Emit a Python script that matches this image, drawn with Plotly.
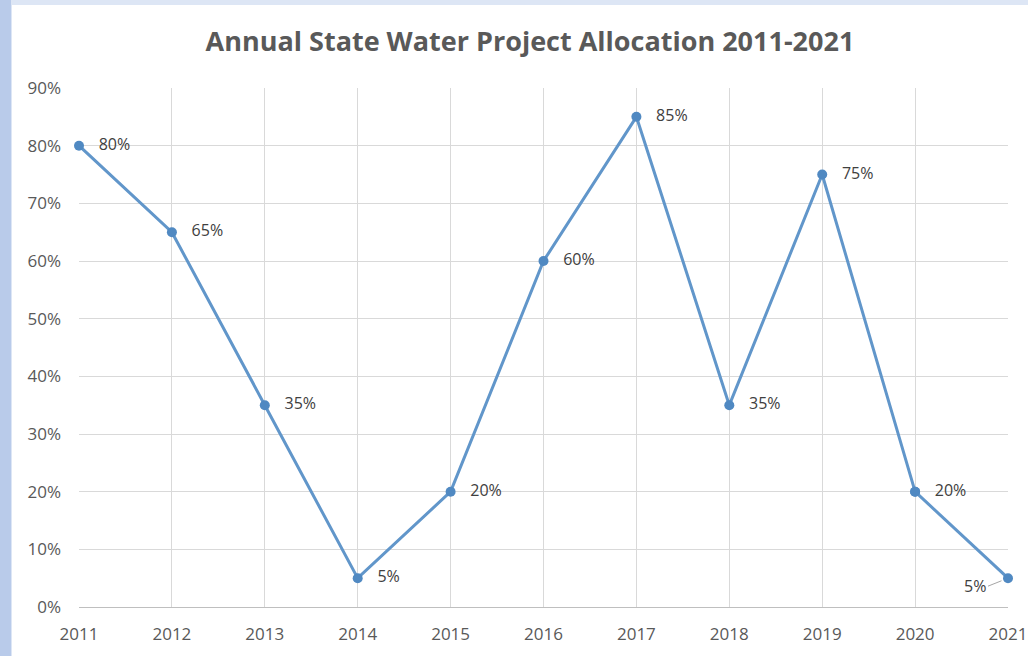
import plotly.graph_objects as go

years = [2011, 2012, 2013, 2014, 2015, 2016, 2017, 2018, 2019, 2020, 2021]
allocation = [0.80, 0.65, 0.35, 0.05, 0.20, 0.60, 0.85, 0.35, 0.75, 0.20, 0.05]
labels = ["80%", "65%", "35%", "5%", "20%", "60%", "85%", "35%", "75%", "20%", "5%"]
y_ticks = [0, 0.1, 0.2, 0.3, 0.4, 0.5, 0.6, 0.7, 0.8, 0.9]
title = "Annual State Water Project Allocation 2011-2021"

W, H = 1028, 656
L, R, T, B = 79, 20, 88, 49
pw, ph = W - L - R, H - T - B

def px_x(p):
    return (p - L) / pw

def px_y(p):
    return (H - B - p) / ph

line_color = "#6196ca"
marker_color = "#5089c2"
text_color = "#404040"
font = "Open Sans"

fig = go.Figure()
fig.add_trace(go.Scatter(
    x=years[:-1], y=allocation[:-1], mode="lines+markers+text",
    text=["   " + t for t in labels[:-1]], textposition="middle right",
    textfont=dict(family=font, size=16, color=text_color),
    line=dict(color=line_color, width=3),
    marker=dict(color=marker_color, size=10),
    cliponaxis=False, showlegend=False, hoverinfo="skip",
))
fig.add_trace(go.Scatter(
    x=years[-2:], y=allocation[-2:], mode="lines+markers",
    line=dict(color=line_color, width=3),
    marker=dict(color=marker_color, size=10),
    cliponaxis=False, showlegend=False, hoverinfo="skip",
))
fig.add_annotation(
    x=years[-1], y=allocation[-1], text=labels[-1],
    showarrow=True, arrowhead=0, arrowwidth=1, arrowcolor="#a6a6a6",
    ax=-20, ay=8, standoff=7, xanchor="right",
    font=dict(family=font, size=16, color=text_color),
)

# background frame: light blue page with white chart box
fig.add_shape(type="rect", xref="paper", yref="paper",
              x0=px_x(12), x1=px_x(W + 5), y0=px_y(H + 5), y1=px_y(5),
              fillcolor="white", line=dict(width=0), layer="below")
fig.add_shape(type="rect", xref="paper", yref="paper",
              x0=px_x(-5), x1=px_x(11), y0=px_y(H + 5), y1=px_y(-5),
              fillcolor="#b9cbea", line=dict(width=0), layer="below")

fig.update_layout(
    width=W, height=H, autosize=False,
    margin=dict(l=L, r=R, t=T, b=B, autoexpand=False),
    paper_bgcolor="#dde6f5", plot_bgcolor="white",
    title=dict(text="<b>" + title + "</b>", x=(530 / W), xanchor="center",
               y=1 - 42 / H, yanchor="middle",
               font=dict(family=font, size=27, color="#595959")),
    font=dict(family=font, color="#595959"),
)
fig.update_xaxes(
    range=[years[0], years[-1]], tickvals=years, ticktext=[str(y) for y in years],
    showgrid=True, gridcolor="#d9d9d9", gridwidth=1,
    showline=True, linecolor="#bfbfbf", linewidth=1,
    zeroline=False, ticks="", ticklabelstandoff=12, automargin=False,
    tickfont=dict(family=font, size=17, color="#595959"),
)
fig.update_yaxes(
    range=[0, 0.9], tickvals=y_ticks, tickformat=".0%",
    showgrid=True, gridcolor="#d9d9d9", gridwidth=1,
    showline=False, zeroline=False, ticks="", ticklabelstandoff=17, automargin=False,
    tickfont=dict(family=font, size=17, color="#595959"),
)

fig.write_html(
    "out.html",
    config={"responsive": False, "displayModeBar": False},
    post_script=(
        "document.documentElement.style.overflow='hidden';"
        "document.body.style.overflow='hidden';"
        "document.body.style.margin='0';"
    ),
)
